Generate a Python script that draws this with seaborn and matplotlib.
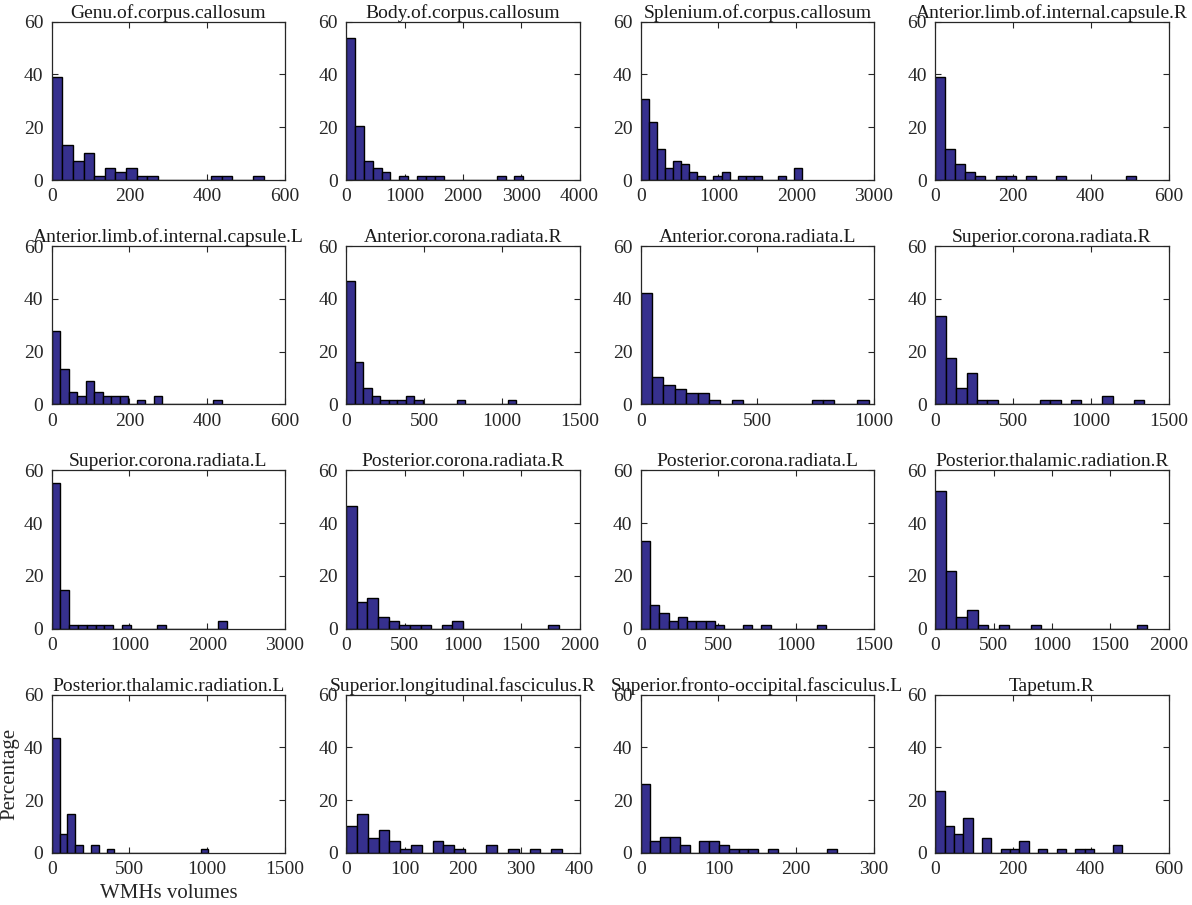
import numpy as np
import pandas as pd
import matplotlib
matplotlib.use("Agg")
import matplotlib.pyplot as plt
import seaborn as sns

# ---------------- data ----------------
titles = [
    "Genu.of.corpus.callosum", "Body.of.corpus.callosum",
    "Splenium.of.corpus.callosum", "Anterior.limb.of.internal.capsule.R",
    "Anterior.limb.of.internal.capsule.L", "Anterior.corona.radiata.R",
    "Anterior.corona.radiata.L", "Superior.corona.radiata.R",
    "Superior.corona.radiata.L", "Posterior.corona.radiata.R",
    "Posterior.corona.radiata.L", "Posterior.thalamic.radiation.R",
    "Posterior.thalamic.radiation.L", "Superior.longitudinal.fasciculus.R",
    "Superior.fronto-occipital.fasciculus.L", "Tapetum.R",
]

# upper end of the 20-bin histogram range (volume units)
bin_max = [546, 3036, 2080, 517, 438, 1094, 977, 1343,
           2253, 1822, 1193, 1819, 1008, 370, 252, 480]
# x-axis limits and tick steps
x_limit = [600, 4000, 3000, 600, 600, 1500, 1000, 1500,
           3000, 2000, 1500, 2000, 1500, 400, 300, 600]
x_step = [200, 1000, 1000, 200, 200, 500, 500, 500,
          1000, 500, 500, 500, 500, 100, 100, 200]

# percentage per bin (20 bins each)
genu      = [39.1, 13.3, 7.3, 10.4, 1.5, 4.4, 2.9, 4.4, 1.5, 1.5, 0, 0, 0, 0, 0, 1.5, 1.5, 0, 0, 1.5]
body      = [53.9, 20.5, 7.3, 4.4, 2.9, 0, 1.5, 0, 1.5, 1.5, 1.5, 0, 0, 0, 0, 0, 0, 1.5, 0, 1.5]
splenium  = [30.6, 21.8, 11.6, 4.4, 7.3, 5.9, 2.9, 1.5, 0, 1.5, 2.9, 0, 1.5, 1.5, 1.5, 0, 0, 1.5, 0, 4.4]
alic_r    = [39.1, 11.6, 5.9, 2.9, 1.5, 0, 1.5, 1.5, 0, 1.5, 0, 0, 1.5, 0, 0, 0, 0, 0, 0, 1.5]
alic_l    = [27.9, 13.4, 4.5, 3.0, 9.0, 4.5, 3.0, 3.0, 3.0, 0, 1.5, 0, 3.0, 0, 0, 0, 0, 0, 0, 1.5]
acr_r     = [46.7, 16.1, 6.0, 3.0, 1.5, 1.5, 1.5, 3.0, 1.5, 0, 0, 0, 0, 1.5, 0, 0, 0, 0, 0, 1.5]
acr_l     = [42.2, 10.2, 7.3, 5.8, 4.4, 4.4, 1.5, 0, 1.5, 0, 0, 0, 0, 0, 0, 1.5, 1.5, 0, 0, 1.5]
scr_r     = [33.5, 17.7, 6.0, 11.9, 1.5, 1.5, 0, 0, 0, 0, 1.5, 1.5, 0, 1.5, 0, 0, 3.0, 0, 0, 1.5]
scr_l     = [55.0, 14.5, 1.5, 1.5, 1.5, 1.5, 1.5, 0, 1.5, 0, 0, 0, 1.5, 0, 0, 0, 0, 0, 0, 2.9]
pcr_r     = [46.3, 10.1, 11.6, 4.4, 2.9, 1.5, 1.5, 1.5, 0, 1.5, 2.9, 0, 0, 0, 0, 0, 0, 0, 0, 1.5]
pcr_l     = [33.3, 8.8, 5.9, 2.9, 4.4, 2.9, 2.9, 2.9, 1.5, 0, 0, 1.5, 0, 1.5, 0, 0, 0, 0, 0, 1.5]
ptr_r     = [52.2, 21.8, 4.4, 7.2, 1.5, 0, 1.5, 0, 0, 1.5, 0, 0, 0, 0, 0, 0, 0, 0, 0, 1.5]
ptr_l     = [43.7, 7.3, 14.6, 2.9, 0, 2.9, 0, 1.5, 0, 0, 0, 0, 0, 0, 0, 0, 0, 0, 0, 1.5]
slf_r     = [10.2, 14.6, 5.8, 8.8, 4.4, 1.5, 2.9, 0, 4.4, 2.9, 1.5, 0, 0, 2.9, 0, 1.5, 0, 1.5, 0, 1.5]
sfof_l    = [26.3, 4.5, 5.9, 5.9, 2.9, 0, 4.4, 4.4, 2.9, 1.5, 1.5, 1.5, 0, 1.5, 0, 0, 0, 0, 0, 1.5]
tapetum_r = [23.5, 10.2, 7.3, 13.3, 0, 5.8, 0, 1.5, 1.5, 4.4, 0, 1.5, 0, 1.5, 0, 1.5, 1.5, 0, 0, 2.9]

heights = [genu, body, splenium, alic_r, alic_l, acr_r, acr_l, scr_r,
           scr_l, pcr_r, pcr_l, ptr_r, ptr_l, slf_r, sfof_l, tapetum_r]

y_ticks = [0, 20, 40, 60]
n_bins = 20

# ---------------- style ----------------
sns.set_theme(style="ticks")
plt.rcParams["font.family"] = ["Liberation Serif", "DejaVu Serif"]
plt.rcParams.update({
    "xtick.direction": "in", "ytick.direction": "in",
    "xtick.top": True, "ytick.right": True,
    "xtick.major.size": 4, "ytick.major.size": 4,
    "xtick.major.width": 0.8, "ytick.major.width": 0.8,
    "axes.linewidth": 0.9, "axes.edgecolor": "#262626",
    "xtick.color": "#262626", "ytick.color": "#262626",
    "xtick.labelsize": 14, "ytick.labelsize": 14,
    "text.color": "#1a1a1a",
})

W, H = 1192, 905
fig = plt.figure(figsize=(W / 100, H / 100), dpi=100)

col_left = 51.7
col_pitch = 294.5
ax_w = 233.3
row_bottom = 180.0
row_pitch = 224.3
ax_h = 158.3

bar_color = "#36308e"

for i in range(16):
    r, c = divmod(i, 4)
    left = (col_left + c * col_pitch) / W
    bottom = (H - (row_bottom + r * row_pitch)) / H
    ax = fig.add_axes([left, bottom, ax_w / W, ax_h / H])

    edges = np.linspace(0, bin_max[i], n_bins + 1)
    centers = (edges[:-1] + edges[1:]) / 2
    df = pd.DataFrame({"volume": centers, "pct": heights[i]})
    df = df[df["pct"] > 0].reset_index(drop=True)
    sns.histplot(data=df, x="volume", weights="pct", bins=edges.tolist(), ax=ax,
                 color=bar_color, edgecolor="black", linewidth=1.0,
                 alpha=1.0, shrink=1.0)

    ax.set_xlim(0, x_limit[i])
    ax.set_ylim(0, 60)
    ax.set_xticks(np.arange(0, x_limit[i] + 1, x_step[i]))
    ax.set_yticks(y_ticks)
    for s in ax.spines.values():
        s.set_visible(True)
    ax.set_title(titles[i], fontsize=14, pad=2)
    ax.set_xlabel("")
    ax.set_ylabel("")
    ax.tick_params(axis="x", pad=6)
    ax.tick_params(axis="y", pad=6)

    if i == 12:
        ax.set_ylabel("Percentage", fontsize=15, labelpad=3)
        ax.set_xlabel("WMHs volumes", fontsize=15, labelpad=4)

fig.savefig("out.png", dpi=100)
